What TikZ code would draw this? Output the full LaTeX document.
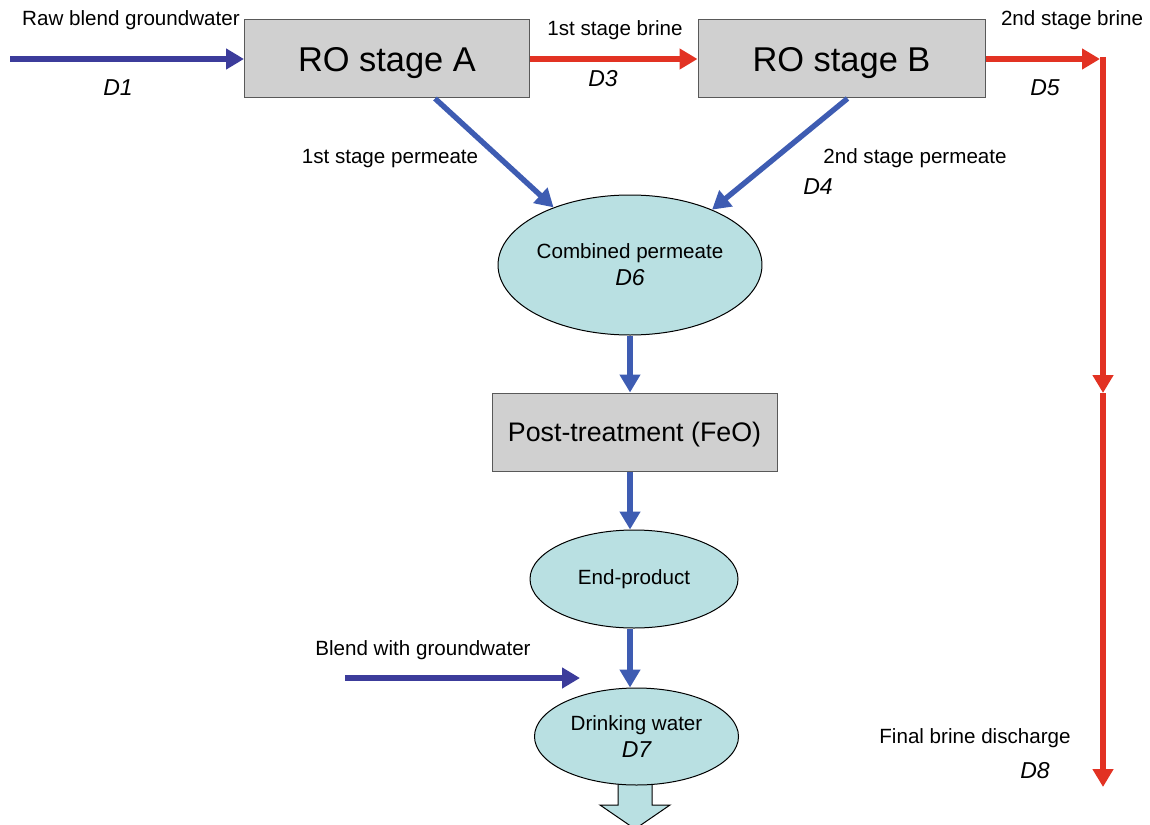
\documentclass[tikz,border=0pt]{standalone}
\usepackage{fontspec}
\setmainfont{Liberation Sans}
\usetikzlibrary{arrows.meta, shapes.geometric, positioning}
\definecolor{inblue}{RGB}{60,60,155}
\definecolor{permblue}{RGB}{62,92,178}
\definecolor{brinered}{RGB}{226,50,35}
\definecolor{boxgray}{RGB}{208,208,208}
\definecolor{pondcyan}{RGB}{185,224,226}
\newcommand{\dmark}[1]{{\fontsize{11.5}{13.5}\selectfont\itshape #1}}
\tikzset{
  stage/.style={draw=black!65, line width=0.5pt, fill=boxgray, minimum width=142.5pt,
                minimum height=39pt, inner sep=0pt, text depth=0pt,
                font=\fontsize{17.2}{20}\selectfont},
  pool/.style={ellipse, draw=black, line width=0.5pt, fill=pondcyan, inner sep=0pt,
               align=center, font=\fontsize{10.3}{13.5}\selectfont},
  lbl/.style={inner sep=0pt, text depth=0pt, font=\fontsize{10.3}{12}\selectfont},
  dlbl/.style={inner sep=0pt, text depth=0pt, font=\fontsize{11.5}{13}\selectfont\itshape},
  flow/.style={line width=2.7pt, -{Triangle[length=9pt,width=10pt]}},
}

\begin{document}
\begin{tikzpicture}[x=0.5pt,y=-0.5pt]
  \useasboundingbox (0,0) rectangle (1150,824);
  % outlet arrow (behind the drinking water)
  \filldraw[fill=pondcyan, draw=black, line width=0.5pt]
    (618,783) -- (618,805) -- (600,805) -- (635,829) -- (670,805) -- (652,805) -- (652,783);
  % RO stages
  \node[stage] (roA) at (387,59) {RO stage A};
  \node[stage, minimum width=143.5pt] (roB) at (841.5,59) {RO stage B};
  % permeate line
  \node[pool, minimum width=128pt, minimum height=70pt] (comb) at (630,265)
    {Combined permeate\\\dmark{D6}};
  \node[stage, font=\fontsize{13.4}{16}\selectfont] (post) at (634.5,432) {Post-treatment (FeO)};
  \node[pool, minimum width=104pt, minimum height=49pt] (endp) at (634,579) {End-product};
  \node[pool, minimum width=102pt, minimum height=48.5pt] (drink) at (636.5,736.5)
    {Drinking water\\\dmark{D7}};
  % free ends
  \coordinate (rawin) at (10,59);
  \coordinate (blendin) at (345,678);
  \coordinate (blendend) at (580,678);
  \coordinate (bend) at (1103,59);
  \coordinate (brinemid) at (1103,393);
  \coordinate (brineout) at (1103,787);
  % feed
  \draw[flow, inblue] (rawin) -- (roA.west);
  \draw[flow, inblue] (blendin) -- (blendend);
  % brine
  \draw[flow, brinered] (roA.east) -- (roB.west);
  \draw[flow, brinered] (roB.east) -- ([xshift=-1.5pt]bend);
  \draw[flow, brinered] ([yshift=1pt]bend) -- (brinemid);
  \draw[flow, brinered] (brinemid) -- (brineout);
  % permeate
  \draw[flow, permblue] ([xshift=24pt]roA.south) -- (comb.143);
  \draw[flow, permblue] ([xshift=3pt]roB.south) -- (comb.34);
  \draw[flow, permblue] (comb.south) -- (comb.south |- post.north);
  \draw[flow, permblue] (post.south -| comb.south) -- (comb.south |- endp.north);
  \draw[flow, permblue] (endp.south -| comb.south) -- (comb.south |- drink.north);
  % labels
  \node[lbl] (rawlbl) at (131,18) {Raw blend groundwater};
  \node[dlbl] (d1) at (118,88) {D1};
  \node[lbl] (brine1) at (615,28) {1st stage brine};
  \node[dlbl] (d3) at (603,78) {D3};
  \node[lbl] (brine2) at (1072,18) {2nd stage brine};
  \node[dlbl] (d5) at (1045,88) {D5};
  \node[lbl] (perm1) at (390,156) {1st stage permeate};
  \node[lbl] (perm2) at (915,156) {2nd stage permeate};
  \node[dlbl] (d4) at (818,187) {D4};
  \node[lbl] (blendlbl) at (423,648) {Blend with groundwater};
  \node[lbl] (finallbl) at (975,736) {Final brine discharge};
  \node[dlbl] (d8) at (1035,770) {D8};
\end{tikzpicture}
\end{document}
